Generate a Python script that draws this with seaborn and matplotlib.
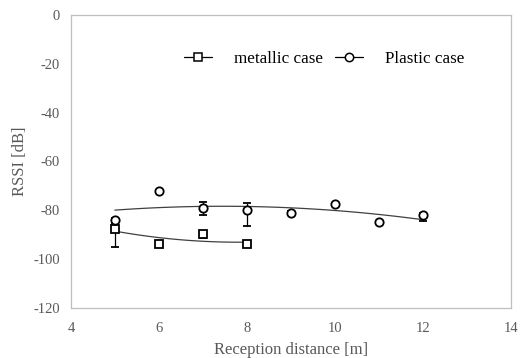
import numpy as np
import pandas as pd
import matplotlib
matplotlib.use("Agg")
import matplotlib.pyplot as plt
import seaborn as sns
from matplotlib.lines import Line2D

# Data
metal_x = [5, 6, 7, 8]
metal_y = [-87.6, -94.0, -89.9, -94.0]
metal_err_lo = [7.5, 0.8, 1.5, 0.8]
metal_err_hi = [2.0, 0.8, 1.5, 0.8]

plastic_x = [5, 6, 7, 8, 9, 10, 11, 12]
plastic_y = [-84.0, -72.0, -79.0, -80.0, -81.0, -77.6, -84.7, -82.1]
plastic_err_lo = [1.0, 0.5, 3.0, 6.5, 0.8, 0.5, 1.0, 2.2]
plastic_err_hi = [1.0, 0.5, 2.2, 2.8, 0.8, 0.5, 0.5, 0.8]

x_ticks = [4, 6, 8, 10, 12, 14]
y_ticks = [0, -20, -40, -60, -80, -100, -120]

sns.set_theme(style="white")
plt.rcParams['font.family'] = ['Liberation Serif', 'DejaVu Serif']

df_m = pd.DataFrame({"x": metal_x, "y": metal_y})
df_p = pd.DataFrame({"x": plastic_x, "y": plastic_y})

fig = plt.figure(figsize=(5.25, 3.58), dpi=100)
ax = fig.add_axes([0.135, 0.14, 0.838, 0.818])

# trend lines (2nd order polynomial)
sns.regplot(data=df_m, x="x", y="y", order=2, ci=None, scatter=False, truncate=True,
            line_kws=dict(color="#404040", lw=0.9), ax=ax)
sns.regplot(data=df_p, x="x", y="y", order=2, ci=None, scatter=False, truncate=True,
            line_kws=dict(color="#404040", lw=0.9), ax=ax)

mk = dict(ms=6, mfc='white', mec='black', mew=1.3, ecolor='black', elinewidth=0.9,
          capsize=3, capthick=0.9, zorder=3)
ax.errorbar(metal_x, metal_y, yerr=[metal_err_lo, metal_err_hi], fmt='s', **mk)
ax.errorbar(plastic_x, plastic_y, yerr=[plastic_err_lo, plastic_err_hi], fmt='o', **mk)

ax.set_xlim(4, 14)
ax.set_ylim(-120, 0)
ax.set_xticks(x_ticks)
ax.set_yticks(y_ticks)
ax.set_xticklabels([str(t) for t in x_ticks])
ax.set_yticklabels([str(t) for t in y_ticks])
ax.tick_params(axis='both', labelsize=10.5, colors='#595959', length=0)
ax.tick_params(axis='x', pad=10)
ax.tick_params(axis='y', pad=8)
for s in ax.spines.values():
    s.set_color('#bfbfbf')
    s.set_linewidth(0.9)
ax.set_xlabel("Reception distance [m]", fontsize=12, color='#595959', labelpad=5)
ax.set_ylabel("RSSI [dB]", fontsize=12, color='#595959', labelpad=4)

handles = [
    Line2D([], [], color='black', lw=0.9, marker='s', ms=6, mfc='white', mec='black', mew=1.1),
    Line2D([], [], color='black', lw=0.9, marker='o', ms=6, mfc='white', mec='black', mew=1.1),
]
leg = ax.legend(handles, ["metallic case", "Plastic case"], ncol=2, loc='upper left',
                bbox_to_anchor=(0.257, 0.876), frameon=False, fontsize=12.3,
                borderpad=0, borderaxespad=0,
                handlelength=1.64, handletextpad=1.3, columnspacing=0.7)
for t in leg.get_texts():
    t.set_color('black')

fig.savefig("out.png", dpi=100)
